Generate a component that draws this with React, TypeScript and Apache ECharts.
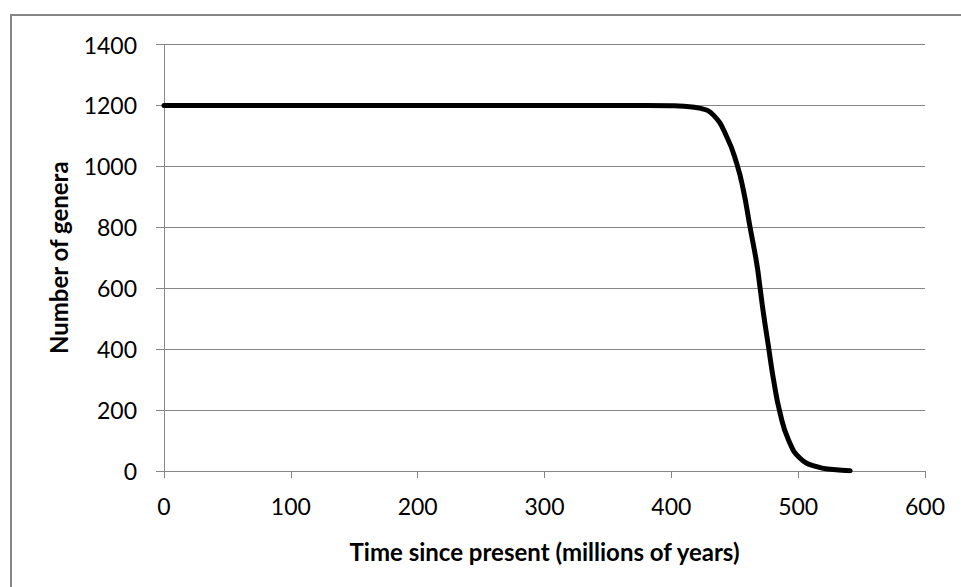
import React, { useEffect, useRef } from "react";
import * as echarts from "echarts";

const timeMya = [0, 100, 200, 300, 380, 400, 410, 422, 433, 443.6, 451.5, 456.8, 462, 467.3, 470, 472.6, 476.6, 480.6, 485.8, 492.4, 501.5, 514.6, 527.7, 541];
const genera = [1200, 1200, 1200, 1200, 1200, 1199, 1197, 1191, 1169, 1098, 1010, 922, 802, 682, 600, 518, 408, 299, 189, 102, 42, 14, 5, 1];
const xTicks = [0, 100, 200, 300, 400, 500, 600];
const yTicks = [0, 200, 400, 600, 800, 1000, 1200, 1400];

const FONT = "Lato";
const GRAY = "#868686";

export default function App() {
  const ref = useRef<HTMLDivElement>(null);
  useEffect(() => {
    if (!ref.current) return;
    const chart = echarts.init(ref.current, null, { renderer: "svg" });
    chart.setOption({
      animation: false,
      backgroundColor: "#ffffff",
      textStyle: { fontFamily: FONT },
      graphic: [
        {
          type: "rect",
          shape: { x: 11, y: 15, width: 1000, height: 1000 },
          style: { fill: "none", stroke: GRAY, lineWidth: 2 },
          silent: true,
        },
      ],
      grid: { left: 164, right: 36, top: 44.5, bottom: 116, containLabel: false },
      xAxis: {
        type: "value",
        min: xTicks[0],
        max: xTicks[xTicks.length - 1],
        interval: 100,
        name: "Time since present (millions of years)",
        nameLocation: "middle",
        nameGap: 68,
        nameTextStyle: { fontFamily: FONT, fontSize: 24, fontWeight: "bold", color: "#000" },
        axisLine: { show: true, lineStyle: { color: GRAY, width: 1 } },
        axisTick: { show: true, length: 7, lineStyle: { color: GRAY } },
        axisLabel: { margin: 23, fontFamily: FONT, fontSize: 23, color: "#000", formatter: (v: number) => String(v) },
        splitLine: { show: false },
      },
      yAxis: {
        type: "value",
        min: yTicks[0],
        max: yTicks[yTicks.length - 1],
        interval: 200,
        name: "Number of genera",
        nameLocation: "middle",
        nameGap: 94,
        nameRotate: 90,
        nameTextStyle: { fontFamily: FONT, fontSize: 24, fontWeight: "bold", color: "#000" },
        axisLine: { show: true, lineStyle: { color: GRAY, width: 1 } },
        axisTick: { show: true, inside: false, length: 8, lineStyle: { color: GRAY } },
        axisLabel: { margin: 27, fontFamily: FONT, fontSize: 23, color: "#000", formatter: (v: number) => String(v) },
        splitLine: { show: true, lineStyle: { color: GRAY, width: 1 } },
      },
      series: [
        {
          type: "line",
          data: timeMya.map((t, i) => [t, genera[i]]),
          showSymbol: false,
          smooth: 0.5,
          lineStyle: { color: "#000", width: 5, cap: "round", join: "round" },
          z: 5,
        },
      ],
    });
    return () => chart.dispose();
  }, []);
  return (
    <div
      ref={ref}
      style={{ position: "fixed", left: 0, top: 0, width: 961, height: 587, background: "#fff" }}
    />
  );
}
